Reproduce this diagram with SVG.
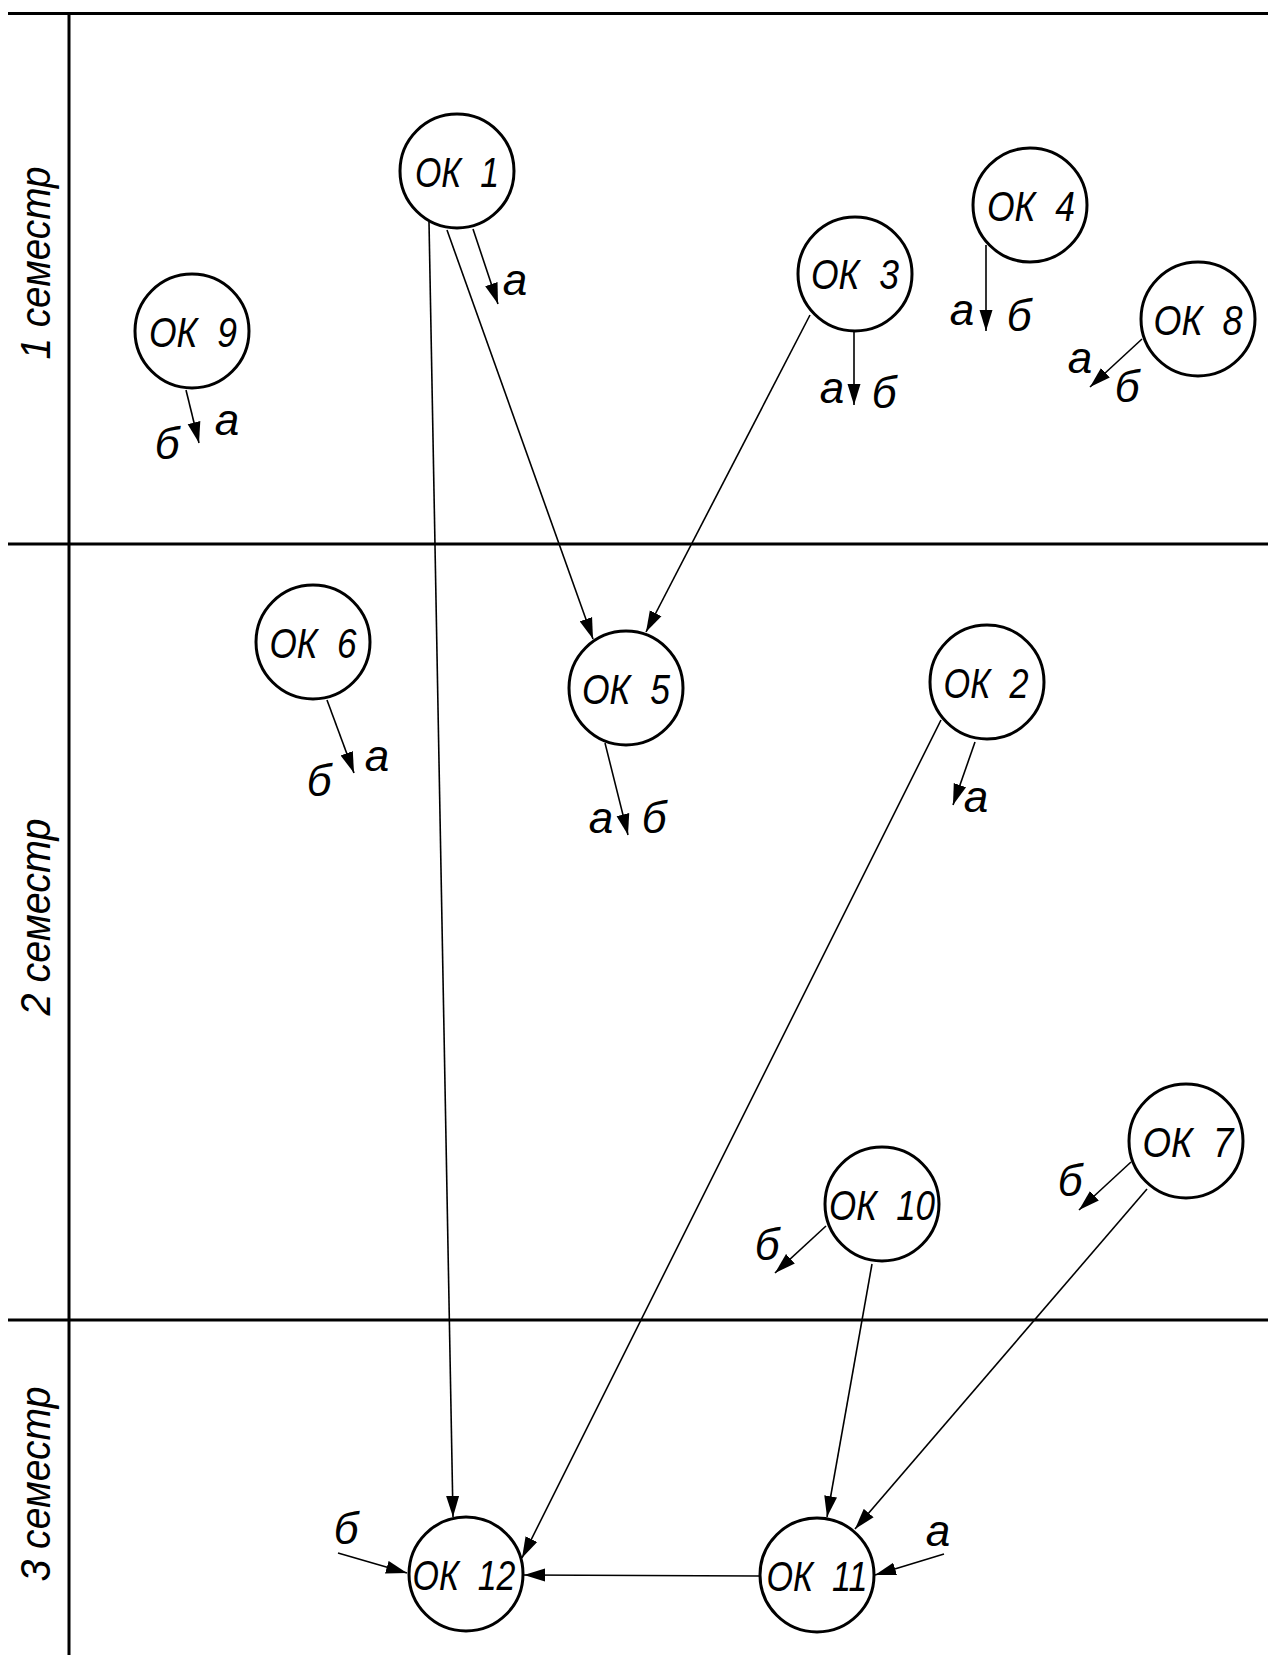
<svg xmlns="http://www.w3.org/2000/svg" width="1268" height="1655" viewBox="0 0 1268 1655">
<style>
.frame{stroke:#000;stroke-width:3;fill:none}
.node circle{fill:#fff;stroke:#000;stroke-width:3}
.node text{font-family:"Liberation Sans",Arial,sans-serif;font-style:italic;font-size:43px;text-anchor:middle;fill:#000}
.edge{stroke:#000;stroke-width:1.6;fill:none;marker-end:url(#ah)}
.lbl{font-family:"Liberation Sans",Arial,sans-serif;font-style:italic;font-size:44px;text-anchor:middle;fill:#000}
.sem{font-family:"Liberation Sans",Arial,sans-serif;font-style:italic;font-size:43px;text-anchor:middle;fill:#000}
</style>
<defs>
<marker id="ah" markerUnits="userSpaceOnUse" markerWidth="22" markerHeight="14" refX="21" refY="7" orient="auto">
<path d="M0,0.5 L21,7 L0,13.5 z" fill="#000"/>
</marker>
</defs>
<rect width="1268" height="1655" fill="#fff"/>
<g id="frame">
<line class="frame" x1="8" y1="13.5" x2="1268" y2="13.5"/>
<line class="frame" x1="8" y1="544" x2="1268" y2="544"/>
<line class="frame" x1="8" y1="1320" x2="1268" y2="1320"/>
<line class="frame" x1="69" y1="13.5" x2="69" y2="1655"/>
<text class="sem" transform="translate(50,263) rotate(-90)" textLength="193" lengthAdjust="spacingAndGlyphs">1 семестр</text>
<text class="sem" transform="translate(50,917) rotate(-90)" textLength="197" lengthAdjust="spacingAndGlyphs">2 семестр</text>
<text class="sem" transform="translate(50,1484) rotate(-90)" textLength="195" lengthAdjust="spacingAndGlyphs">3 семестр</text>
</g>
<g id="connectors">
<line class="edge" x1="429" y1="222" x2="453" y2="1517"/>
<line class="edge" x1="447" y1="230" x2="593" y2="639"/>
<line class="edge" x1="473" y1="229" x2="498" y2="304"/>
<line class="edge" x1="810" y1="315" x2="646" y2="632"/>
<line class="edge" x1="854" y1="332" x2="854" y2="405"/>
<line class="edge" x1="986" y1="245" x2="986" y2="331"/>
<line class="edge" x1="1142" y1="339" x2="1090" y2="387"/>
<line class="edge" x1="186" y1="390" x2="199" y2="443"/>
<line class="edge" x1="327" y1="700" x2="354" y2="773"/>
<line class="edge" x1="605" y1="743" x2="628" y2="835"/>
<line class="edge" x1="975" y1="742" x2="953" y2="805"/>
<line class="edge" x1="941" y1="720" x2="522" y2="1558"/>
<line class="edge" x1="826" y1="1226" x2="775" y2="1273"/>
<line class="edge" x1="1131" y1="1162" x2="1079" y2="1210"/>
<line class="edge" x1="872" y1="1264" x2="827" y2="1517"/>
<line class="edge" x1="1147" y1="1189" x2="855" y2="1529"/>
<line class="edge" x1="759" y1="1576" x2="524" y2="1575"/>
<line class="edge" x1="338" y1="1553" x2="407" y2="1573"/>
<line class="edge" x1="944" y1="1554" x2="875" y2="1575"/>
</g>
<g id="labels">
<text class="lbl" x="515" y="295">а</text>
<text class="lbl" x="832" y="403">а</text>
<text class="lbl" x="884" y="408">б</text>
<text class="lbl" x="962" y="325">а</text>
<text class="lbl" x="1019" y="331">б</text>
<text class="lbl" x="1080" y="373">а</text>
<text class="lbl" x="1127" y="402">б</text>
<text class="lbl" x="227" y="435">а</text>
<text class="lbl" x="167" y="459">б</text>
<text class="lbl" x="377" y="771">а</text>
<text class="lbl" x="319" y="796">б</text>
<text class="lbl" x="601" y="833">а</text>
<text class="lbl" x="654" y="833">б</text>
<text class="lbl" x="976" y="812">а</text>
<text class="lbl" x="767" y="1260">б</text>
<text class="lbl" x="1070" y="1196">б</text>
<text class="lbl" x="346" y="1544">б</text>
<text class="lbl" x="938" y="1546">а</text>
</g>
<g id="ok1" class="node"><circle cx="457" cy="171" r="57"/><text x="457" y="187" textLength="84" lengthAdjust="spacingAndGlyphs">ОК&#160;&#160;1</text></g>
<g id="ok3" class="node"><circle cx="855" cy="274" r="57"/><text x="855" y="289" textLength="88" lengthAdjust="spacingAndGlyphs">ОК&#160;&#160;3</text></g>
<g id="ok4" class="node"><circle cx="1030" cy="205" r="57"/><text x="1031" y="221" textLength="88" lengthAdjust="spacingAndGlyphs">ОК&#160;&#160;4</text></g>
<g id="ok8" class="node"><circle cx="1198" cy="319" r="57"/><text x="1198" y="335" textLength="89" lengthAdjust="spacingAndGlyphs">ОК&#160;&#160;8</text></g>
<g id="ok9" class="node"><circle cx="192" cy="331" r="57"/><text x="193" y="347" textLength="88" lengthAdjust="spacingAndGlyphs">ОК&#160;&#160;9</text></g>
<g id="ok6" class="node"><circle cx="313" cy="642" r="57"/><text x="313" y="658" textLength="87" lengthAdjust="spacingAndGlyphs">ОК&#160;&#160;6</text></g>
<g id="ok5" class="node"><circle cx="626" cy="688" r="57"/><text x="626" y="704" textLength="88" lengthAdjust="spacingAndGlyphs">ОК&#160;&#160;5</text></g>
<g id="ok2" class="node"><circle cx="987" cy="682" r="57"/><text x="986" y="698" textLength="85" lengthAdjust="spacingAndGlyphs">ОК&#160;&#160;2</text></g>
<g id="ok10" class="node"><circle cx="882" cy="1204" r="57"/><text x="882" y="1220" textLength="106" lengthAdjust="spacingAndGlyphs">ОК&#160;&#160;10</text></g>
<g id="ok7" class="node"><circle cx="1186" cy="1141" r="57"/><text x="1188" y="1157" textLength="91" lengthAdjust="spacingAndGlyphs">ОК&#160;&#160;7</text></g>
<g id="ok12" class="node"><circle cx="466" cy="1574" r="57"/><text x="464" y="1590" textLength="103" lengthAdjust="spacingAndGlyphs">ОК&#160;&#160;12</text></g>
<g id="ok11" class="node"><circle cx="817" cy="1575" r="57"/><text x="817" y="1591" textLength="101" lengthAdjust="spacingAndGlyphs">ОК&#160;&#160;11</text></g>
</svg>
